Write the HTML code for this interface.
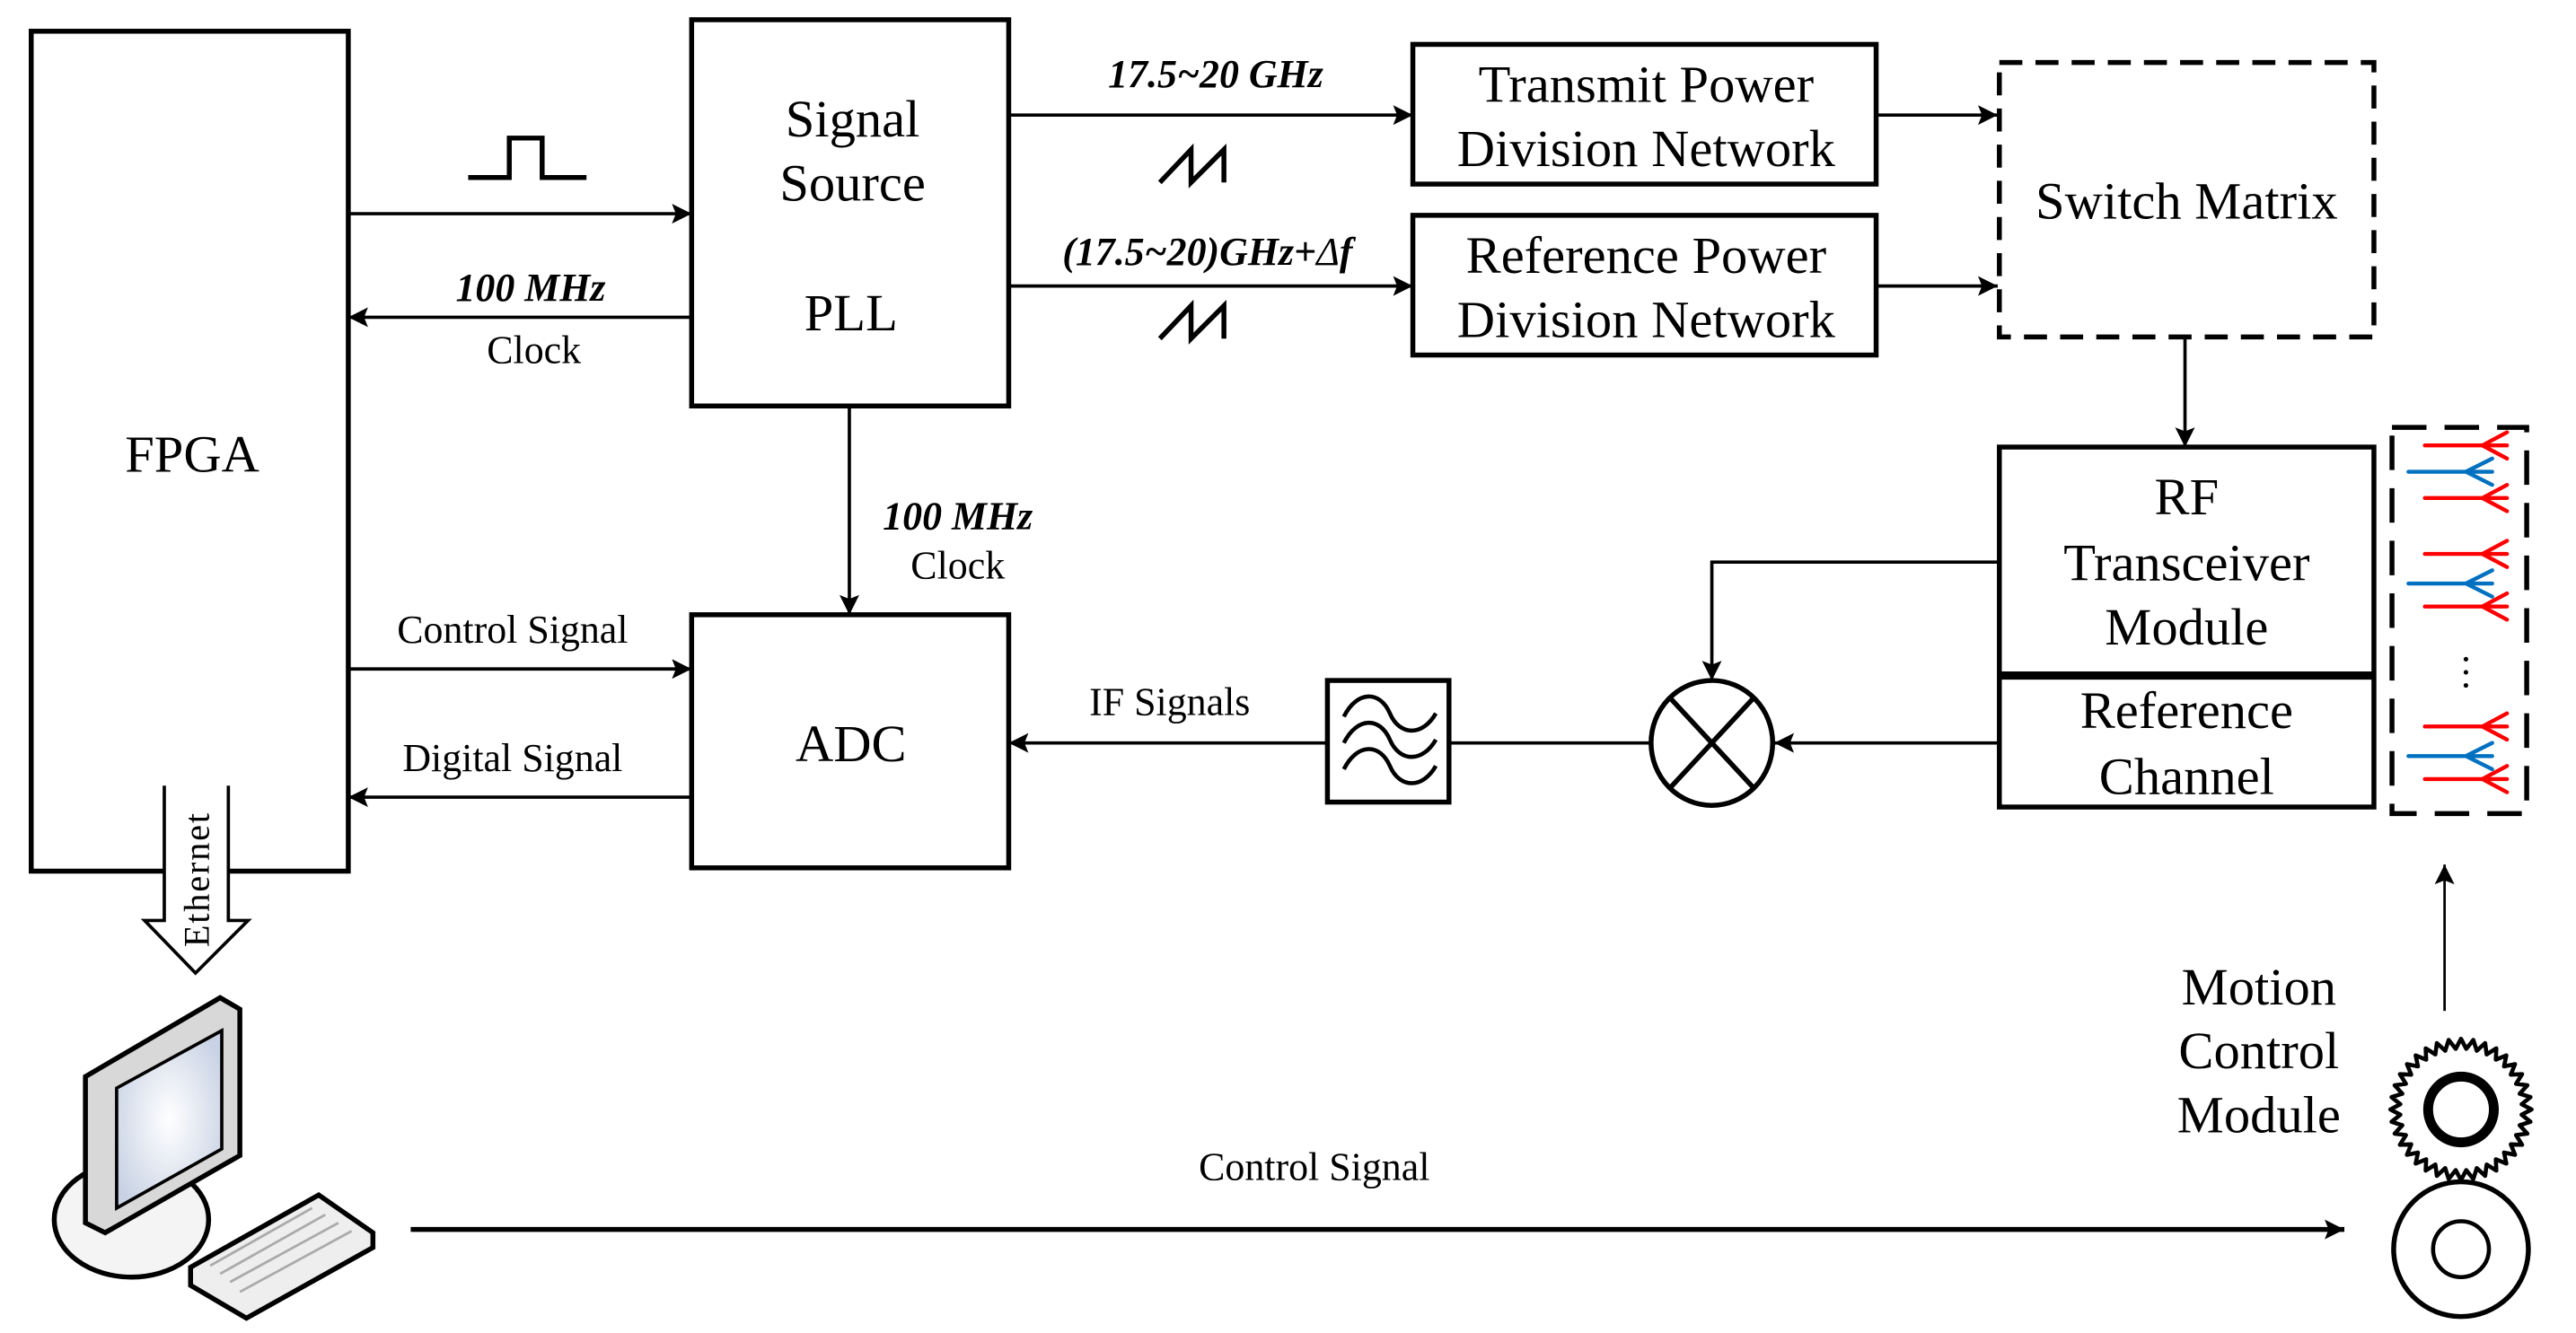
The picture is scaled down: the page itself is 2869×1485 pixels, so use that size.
<!DOCTYPE html>
<html><head><meta charset="utf-8"><style>html,body{margin:0;padding:0;background:#fff}svg{display:block}</style></head>
<body>
<svg width="2869" height="1485" viewBox="0 0 1568 811" preserveAspectRatio="none" xmlns="http://www.w3.org/2000/svg" font-family="'Liberation Serif', serif">
<defs>
<marker id="b" viewBox="0 0 10 10" refX="10" refY="5" markerWidth="12" markerHeight="12" orient="auto" markerUnits="userSpaceOnUse"><path d="M0,0 L10,5 L0,10 L2,5 z" fill="#000"/></marker>
<radialGradient id="sg" cx="0.5" cy="0.5" r="0.6"><stop offset="0" stop-color="#fff"/><stop offset="1" stop-color="#c8d2e4"/></radialGradient>
</defs>
<g fill="none" stroke="#000" stroke-width="3">
<rect x="19" y="19" width="193" height="511"/>
<rect x="421" y="12" width="193" height="235"/>
<rect x="421" y="374" width="193" height="154"/>
<rect x="860" y="27" width="282" height="85"/>
<rect x="860" y="131" width="282" height="85"/>
<rect x="1217" y="38" width="228" height="167" stroke-dasharray="14,8"/>
<rect x="1217" y="272" width="228" height="219"/>
<line x1="1217" y1="411" x2="1445" y2="411" stroke-width="5"/>
<rect x="1456" y="260" width="82" height="235" stroke-dasharray="21,11"/>
<rect x="808" y="414" width="74" height="74"/>
<ellipse cx="1042" cy="452" rx="37" ry="38"/>
<line x1="1016" y1="424" x2="1068" y2="480"/><line x1="1068" y1="424" x2="1016" y2="480"/>
<path d="M285,108 H310 V84 H330 V108 H357"/>
<path d="M706,111 L725,91 V111 L745,91 V111"/>
<path d="M706,206 L725,186 V206 L745,186 V206"/>
<path d="M818,436 c8,-16 22,-16 28,-2 c6,14 20,14 28,0 M818,452 c8,-16 22,-16 28,-2 c6,14 20,14 28,0 M818,468 c8,-16 22,-16 28,-2 c6,14 20,14 28,0" stroke-width="2.5"/>
</g>
<g stroke="#000" stroke-width="2">
<line x1="212" y1="130" x2="421" y2="130" marker-end="url(#b)"/>
<line x1="421" y1="193" x2="212" y2="193" marker-end="url(#b)"/>
<line x1="614" y1="70" x2="860" y2="70" marker-end="url(#b)"/>
<line x1="614" y1="174" x2="860" y2="174" marker-end="url(#b)"/>
<line x1="1142" y1="70" x2="1216" y2="70" marker-end="url(#b)"/>
<line x1="1142" y1="174" x2="1216" y2="174" marker-end="url(#b)"/>
<line x1="1330" y1="205" x2="1330" y2="272" marker-end="url(#b)"/>
<line x1="517" y1="247" x2="517" y2="374" marker-end="url(#b)"/>
<line x1="212" y1="407" x2="421" y2="407" marker-end="url(#b)"/>
<line x1="421" y1="485" x2="212" y2="485" marker-end="url(#b)"/>
<polyline points="1217,342 1042,342 1042,414" fill="none" marker-end="url(#b)"/>
<line x1="1217" y1="452" x2="1080" y2="452" marker-end="url(#b)"/>
<line x1="1004" y1="452" x2="882" y2="452"/>
<line x1="808" y1="452" x2="614" y2="452" marker-end="url(#b)"/>
<line x1="250" y1="748" x2="1427" y2="748" stroke-width="3" marker-end="url(#b)"/>
<line x1="1488" y1="615" x2="1488" y2="526" stroke-width="1.5" marker-end="url(#b)"/>
</g>
<g fill="none" stroke-width="2.4" stroke-linecap="round">
<g stroke="#ff0000">
<path d="M1476,271 H1526 M1526,263 L1511,271 L1526,279"/>
<path d="M1476,303 H1526 M1526,295 L1511,303 L1526,311"/>
<path d="M1476,337 H1526 M1526,329 L1511,337 L1526,345"/>
<path d="M1476,369 H1526 M1526,361 L1511,369 L1526,377"/>
<path d="M1476,442 H1526 M1526,434 L1511,442 L1526,450"/>
<path d="M1476,474 H1526 M1526,466 L1511,474 L1526,482"/>
</g>
<g stroke="#0070c0">
<path d="M1466,287 H1517 M1517,279 L1501,287 L1517,295"/>
<path d="M1466,355 H1517 M1517,347 L1501,355 L1517,363"/>
<path d="M1466,460 H1517 M1517,452 L1501,460 L1517,468"/>
</g>
</g>
<circle cx="1501" cy="401" r="1.4"/><circle cx="1501" cy="409" r="1.4"/><circle cx="1501" cy="417" r="1.4"/>
<path d="M100,478 V560 H88 L119,592 L151,560 H139 V478" fill="#fff" stroke="#000" stroke-width="2"/>
<text transform="translate(127,535) rotate(-90)" font-size="22" text-anchor="middle" letter-spacing="1">Ethernet</text>
<ellipse cx="80" cy="742" rx="47" ry="35" fill="#f4f4f4" stroke="#000" stroke-width="3"/>
<polygon points="52,655 134,607 146,614 146,703 64,750 52,744" fill="#d8d8d8" stroke="#000" stroke-width="3"/>
<polygon points="71,662 135,627 135,699 71,735" fill="url(#sg)" stroke="#000" stroke-width="2"/>
<polygon points="116,771 194,727 227,750 227,759 150,802 116,782" fill="#eee" stroke="#000" stroke-width="3"/>
<g stroke="#aaa" stroke-width="1.5" fill="none">
<path d="M128,770 L190,735 M134,775 L198,739 M140,780 L206,744 M146,786 L214,749"/>
</g>
<polygon id="gear" fill="none" stroke="#000" stroke-width="2.5" stroke-linejoin="round" points="1498,632 1541,675 1498,718 1455,675"/>
<circle cx="1498" cy="675" r="20" fill="none" stroke="#000" stroke-width="6"/>
<circle cx="1498" cy="760" r="41" fill="none" stroke="#000" stroke-width="3"/>
<circle cx="1498" cy="760" r="17" fill="none" stroke="#000" stroke-width="2.5"/>
<g font-size="32" text-anchor="middle">
<text x="117" y="287">FPGA</text>
<text x="519" y="83">Signal</text>
<text x="519" y="122">Source</text>
<text x="518" y="201">PLL</text>
<text x="518" y="463">ADC</text>
<text x="1002" y="62">Transmit Power</text>
<text x="1002" y="101">Division Network</text>
<text x="1002" y="166">Reference Power</text>
<text x="1002" y="205">Division Network</text>
<text x="1331" y="133">Switch Matrix</text>
<text x="1331" y="313">RF</text>
<text x="1331" y="353">Transceiver</text>
<text x="1331" y="392">Module</text>
<text x="1331" y="443">Reference</text>
<text x="1331" y="483">Channel</text>
<text x="1375" y="611">Motion</text>
<text x="1375" y="650">Control</text>
<text x="1375" y="689">Module</text>
</g>
<g font-size="24" text-anchor="middle">
<text x="323" y="183" font-weight="bold" font-style="italic">100 MHz</text>
<text x="325" y="221">Clock</text>
<text x="583" y="322" font-weight="bold" font-style="italic">100 MHz</text>
<text x="583" y="352">Clock</text>
<text x="312" y="391">Control Signal</text>
<text x="312" y="469">Digital Signal</text>
<text x="712" y="435">IF Signals</text>
<text x="800" y="718">Control Signal</text>
<text x="740" y="53" font-weight="bold" font-style="italic">17.5~20 GHz</text>
<text x="735" y="161" font-weight="bold" font-style="italic">(17.5~20)GHz+<tspan font-weight="normal">Δ</tspan>f</text>
</g>
</svg>
<script>
(function(){var p=[],n=36,cx=1498,cy=675;for(var i=0;i<2*n;i++){var a=i*Math.PI/n,r=(i%2?37:43);p.push((cx+r*Math.sin(a)).toFixed(1)+','+(cy-r*Math.cos(a)).toFixed(1));}document.getElementById('gear').setAttribute('points',p.join(' '));})();
</script>
</body></html>
